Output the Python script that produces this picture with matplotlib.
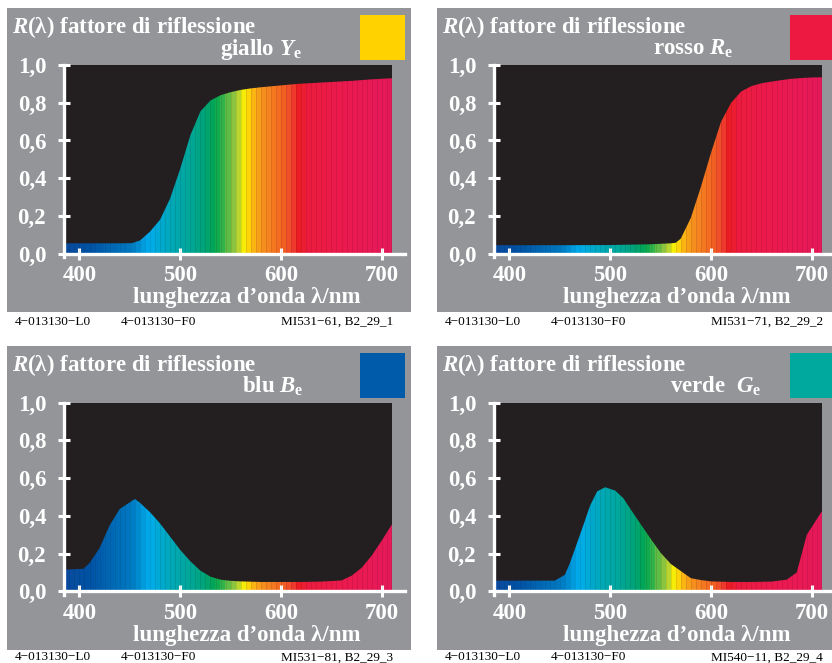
import numpy as np
import matplotlib
matplotlib.use("Agg")
import matplotlib.pyplot as plt
from matplotlib.patches import Rectangle, Polygon
from matplotlib.colors import LinearSegmentedColormap

plt.rcParams['font.family'] = ['Liberation Serif', 'DejaVu Serif']
plt.rcParams['font.weight'] = 'bold'
plt.rcParams['mathtext.fontset'] = 'custom'
plt.rcParams['mathtext.rm'] = 'Liberation Serif:bold'
plt.rcParams['mathtext.it'] = 'Liberation Serif:italic:bold'

# Reflectance curves
wl_giallo = [385, 400, 420, 440, 452, 460, 470, 480, 490, 500, 510, 520, 530, 540, 550,
             560, 570, 580, 590, 600, 610, 620, 630, 640, 650, 660, 670, 680, 690, 700, 710]
r_giallo = [0.055, 0.055, 0.055, 0.055, 0.056, 0.07, 0.117, 0.18, 0.293, 0.45, 0.627, 0.754,
            0.812, 0.84, 0.856, 0.868, 0.876, 0.882, 0.887, 0.892, 0.897, 0.901, 0.904, 0.907,
            0.910, 0.913, 0.916, 0.920, 0.924, 0.927, 0.930]

wl_rosso = [385, 400, 450, 500, 540, 560, 565, 570, 580, 590, 600, 610, 620, 630, 640, 650,
            660, 670, 680, 690, 700, 710]
r_rosso = [0.045, 0.045, 0.045, 0.046, 0.05, 0.055, 0.058, 0.08, 0.19, 0.355, 0.535, 0.70,
           0.80, 0.86, 0.888, 0.903, 0.912, 0.92, 0.927, 0.931, 0.934, 0.935]

wl_blu = [385, 404, 410, 420, 430, 440, 450, 455, 460, 470, 480, 490, 500, 510, 520, 530,
          540, 550, 560, 580, 600, 620, 640, 660, 670, 680, 690, 700, 710]
r_blu = [0.115, 0.12, 0.15, 0.23, 0.35, 0.437, 0.472, 0.49, 0.47, 0.42, 0.36, 0.29, 0.22,
         0.16, 0.11, 0.078, 0.062, 0.056, 0.053, 0.05, 0.05, 0.05, 0.052, 0.058, 0.083,
         0.125, 0.19, 0.27, 0.355]

wl_verde = [385, 445, 455, 460, 470, 480, 487, 495, 505, 513, 520, 530, 540, 550, 560, 570,
            580, 590, 600, 620, 640, 660, 675, 685, 695, 710]
r_verde = [0.057, 0.057, 0.088, 0.15, 0.30, 0.454, 0.53, 0.552, 0.534, 0.494, 0.437, 0.358,
           0.28, 0.205, 0.146, 0.108, 0.07, 0.06, 0.053, 0.05, 0.05, 0.052, 0.062, 0.10,
           0.30, 0.425]

x_ticks = [400, 500, 600, 700]
y_ticks = [0.0, 0.2, 0.4, 0.6, 0.8, 1.0]
y_ticklabels = ['0,0', '0,2', '0,4', '0,6', '0,8', '1,0']

# Spectral stripe palette
spec_wl = [385, 410, 430, 450, 460, 468, 480, 495, 510, 525, 535, 545, 552, 558, 563,
           570, 580, 595, 605, 612, 618, 628, 660, 710]
spec_col = ['#0b4a9e', '#0053a4', '#0067b3', '#0079c1', '#0090d4', '#00aeef', '#00a9d0',
            '#00a8b0', '#00a79a', '#00a477', '#00a651', '#3db549', '#8cc63f', '#c4d82e',
            '#fff200', '#fdc010', '#f7941d', '#f47421', '#f15a24', '#ef4130', '#ed1c24',
            '#ec1c3e', '#ec1a4e', '#e5195a']

panels = [
    (wl_giallo, r_giallo, 'giallo $\\mathit{Y}_\\mathrm{e}$', '#ffd200', 302,
     'MI531\u221261, B2_29_1', 0, 0),
    (wl_rosso, r_rosso, 'rosso $\\mathit{R}_\\mathrm{e}$', '#ed1941', 303,
     'MI531\u221271, B2_29_2', 430, 0),
    (wl_blu, r_blu, 'blu $\\mathit{B}_\\mathrm{e}$', '#005bab', 303,
     'MI531\u221281, B2_29_3', 0, 337.7),
    (wl_verde, r_verde, 'verde  $\\mathit{G}_\\mathrm{e}$', '#00a99d', 331,
     'MI540\u221211, B2_29_4', 430, 337.7),
]

W, H = 832, 663
fig = plt.figure(figsize=(W / 100, H / 100), dpi=100)
fig.patch.set_facecolor('white')

cmap = LinearSegmentedColormap.from_list(
    'spec', [((w - 385) / (710 - 385), c) for w, c in zip(spec_wl, spec_col)])
edges = np.arange(385, 711, 5)
centers = (edges[:-1] + edges[1:]) / 2
stripe_img = cmap((centers - 385) / (710 - 385))[np.newaxis, :, :3]

gray = '#939598'
black = '#231f20'
x0, x1 = 385.0, 722.5
fs = 16.5

for wl, r, sub, sq_col, sub_x, code, dx, dy in panels:
    # gray panel
    fig.patches.append(Rectangle(((7 + dx) / W, 1 - (312 + dy) / H), 404 / W, 304 / H,
                                 transform=fig.transFigure, facecolor=gray,
                                 edgecolor='none', zorder=-2))
    # coloured square
    fig.patches.append(Rectangle(((360 + dx) / W, 1 - (60 + dy) / H), 45 / W, 45 / H,
                                 transform=fig.transFigure, facecolor=sq_col,
                                 edgecolor='none', zorder=-1))

    left = 64.3 + dx
    bottom = 253.7 + dy
    ax = fig.add_axes([left / W, 1 - bottom / H, 340.2 / W, 188.7 / H])
    ax.set_facecolor('none')
    ax.add_patch(Rectangle((x0, 0), 710 - x0, 1.0, facecolor=black, edgecolor='none',
                           zorder=0))
    verts = [(wl[0], 0)] + list(zip(wl, r)) + [(wl[-1], 0)]
    poly = Polygon(verts, closed=True, facecolor='none', edgecolor='none')
    ax.add_patch(poly)
    im = ax.imshow(stripe_img, extent=[385, 710, 0, 1], aspect='auto',
                   interpolation='nearest', zorder=1)
    im.set_clip_path(poly)
    # thin seams between the colour stripes
    seams = ax.vlines(edges[1:-1], 0, 1, colors='black', alpha=0.12, linewidth=0.5, zorder=2)
    seams.set_clip_path(poly)
    ax.set_xlim(x0, x1)
    ax.set_ylim(0, 1.0)

    for s in ['top', 'right']:
        ax.spines[s].set_visible(False)
    for s in ['left', 'bottom']:
        ax.spines[s].set_color('white')
        ax.spines[s].set_linewidth(2.4)
        ax.spines[s].set_zorder(3)
    ax.spines['left'].set_bounds(-0.018, 1.0)

    ax.set_xticks(x_ticks)
    ax.set_xticklabels([str(t) for t in x_ticks])
    ax.set_yticks(y_ticks)
    ax.set_yticklabels(y_ticklabels)
    ax.tick_params(axis='both', direction='inout', color='white', width=2.2,
                   labelcolor='white', labelsize=fs)
    ax.tick_params(axis='y', length=8, pad=9)
    ax.tick_params(axis='x', length=9, pad=3.5)

    ax.text(-0.155, 1.168, '$\\mathit{R}$(λ) fattore di riflessione', transform=ax.transAxes,
            color='white', fontsize=fs, ha='left', va='baseline')
    ax.text((sub_x - 64.3) / 340.2, 1.053, sub, transform=ax.transAxes,
            color='white', fontsize=fs, ha='right', va='baseline')
    ax.text(0.536, -0.263, 'lunghezza d\u2019onda λ/nm', transform=ax.transAxes,
            color='white', fontsize=fs, ha='center', va='baseline')

    # footer codes (bottom row nudged up so it stays inside the image)
    fy = 1 - (325 + min(dy, 335.5)) / H
    fig.text((15 + dx) / W, fy, '4\u2212013130\u2212L0', fontsize=9.5, fontweight='normal',
             color='black', ha='left', va='baseline')
    fig.text((120.5 + dx) / W, fy, '4\u2212013130\u2212F0', fontsize=9.5, fontweight='normal',
             color='black', ha='left', va='baseline')
    fig.text((393 + dx) / W, fy, code, fontsize=9.5, fontweight='normal',
             color='black', ha='right', va='baseline')

fig.savefig('out.png', dpi=100)
